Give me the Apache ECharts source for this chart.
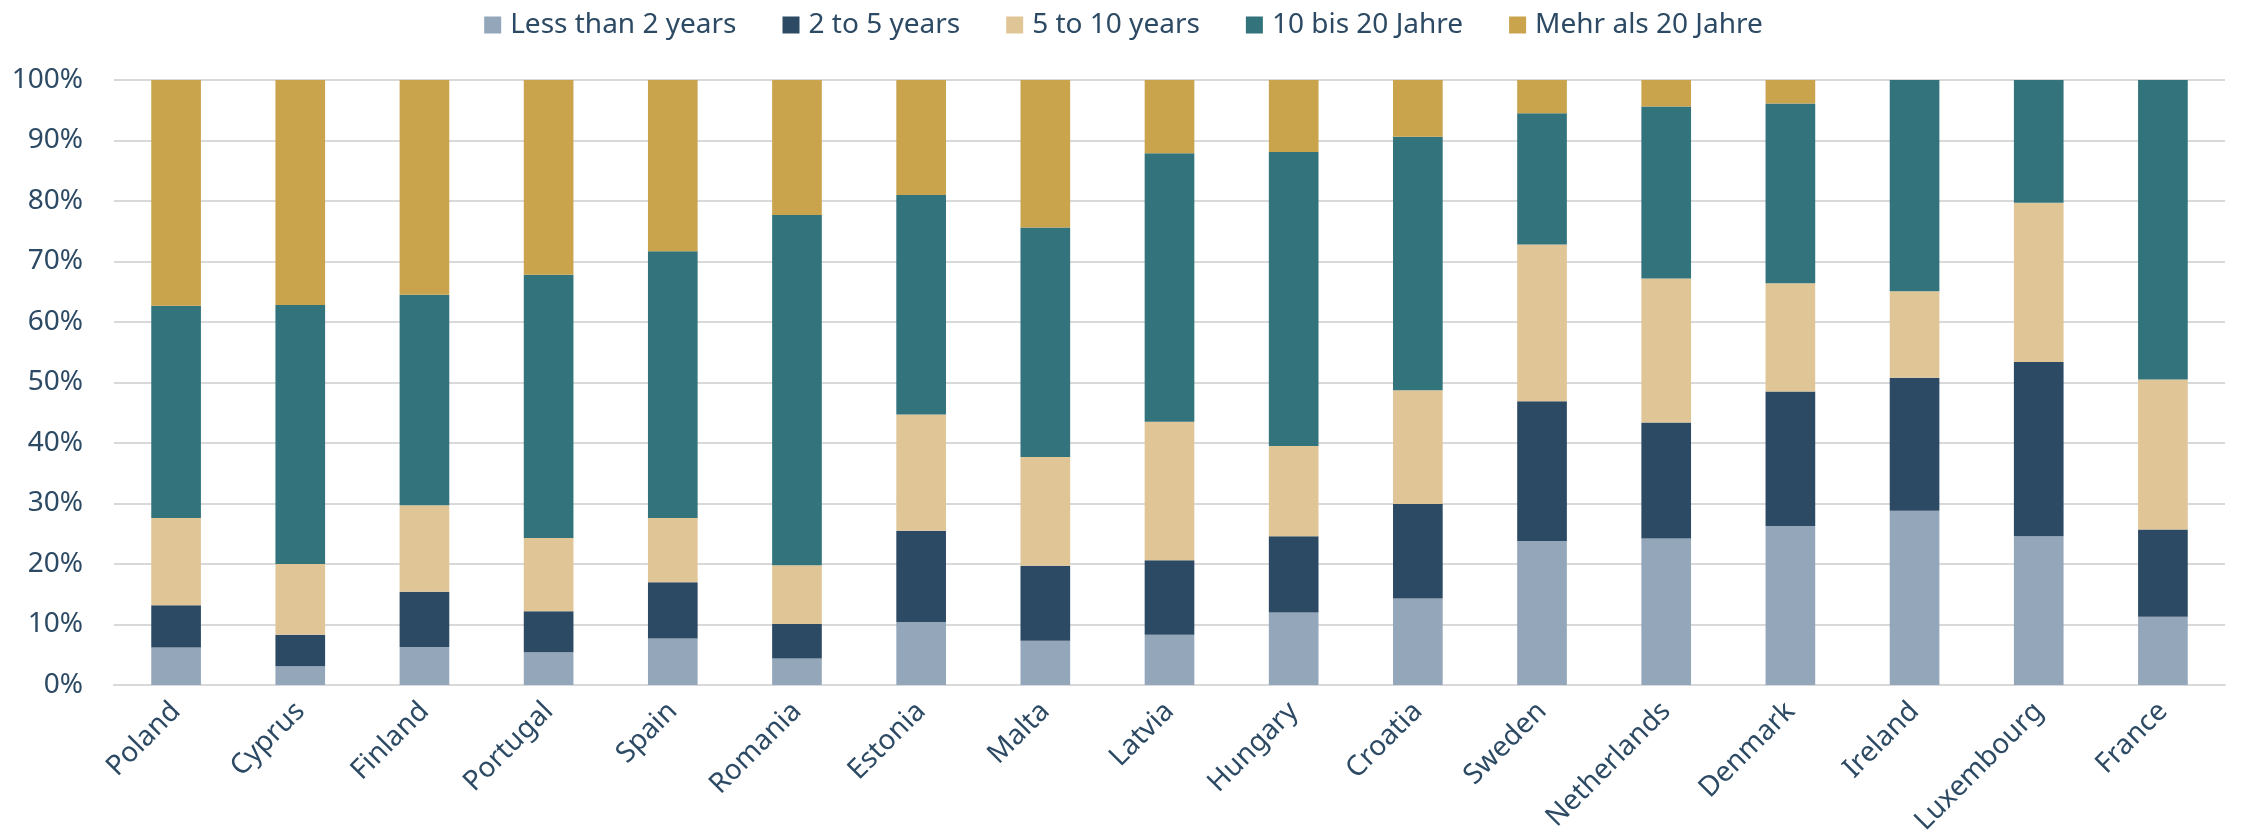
<!DOCTYPE html>
<html>
<head>
<meta charset="utf-8">
<script src="https://cdn.jsdelivr.net/npm/echarts@6/dist/echarts.min.js"></script>
<style>
  html, body { margin: 0; padding: 0; background: #ffffff; }
  #chart { width: 2247px; height: 840px; }
</style>
</head>
<body>
<div id="chart"></div>
<script>
  // countries, left to right
  var countries = ['Poland', 'Cyprus', 'Finland', 'Portugal', 'Spain', 'Romania', 'Estonia', 'Malta', 'Latvia',
    'Hungary', 'Croatia', 'Sweden', 'Netherlands', 'Denmark', 'Ireland', 'Luxembourg', 'France'];

  // share of each duration band, in %
  var lessThan2 = [6.2, 3.1, 6.3, 5.4, 7.7, 4.4, 10.4, 7.3, 8.3, 12.0, 14.3, 23.8, 24.2, 26.3, 28.8, 24.6, 11.3];
  var twoTo5 = [7.0, 5.2, 9.1, 6.8, 9.3, 5.7, 15.1, 12.4, 12.3, 12.6, 15.6, 23.1, 19.2, 22.2, 22.0, 28.8, 14.4];
  var fiveTo10 = [14.4, 11.7, 14.3, 12.1, 10.6, 9.7, 19.2, 18.0, 22.9, 14.9, 18.8, 25.9, 23.8, 17.9, 14.3, 26.3, 24.8];
  var tenTo20 = [35.1, 42.8, 34.8, 43.5, 44.1, 57.9, 36.3, 37.9, 44.4, 48.6, 41.9, 21.7, 28.4, 29.7, 34.9, 20.3, 49.5];
  var over20 = [37.3, 37.2, 35.5, 32.2, 28.3, 22.3, 19.0, 24.4, 12.1, 11.9, 9.4, 5.5, 4.4, 3.9, 0, 0, 0];

  var seriesNames = ['Less than 2 years', '2 to 5 years', '5 to 10 years', '10 bis 20 Jahre', 'Mehr als 20 Jahre'];
  var seriesData = [lessThan2, twoTo5, fiveTo10, tenTo20, over20];
  var colors = ['#94a7ba', '#2d4a64', '#e0c597', '#32737c', '#c9a44d'];

  var textColor = '#2d4a64';
  var fontName = '"Liberation Sans Narrow", "Arial Narrow", "Noto Sans", sans-serif';

  var myChart = echarts.init(document.getElementById('chart'));

  var series = [];
  for (var i = 0; i < seriesNames.length; i++) {
    series.push({
      name: seriesNames[i],
      type: 'bar',
      stack: 'total',
      barWidth: '40%',
      itemStyle: { color: colors[i] },
      data: seriesData[i]
    });
  }

  var option = {
    animation: false,
    color: colors,
    legend: {
      top: 6,
      left: 'center',
      itemWidth: 17,
      itemHeight: 17,
      itemGap: 46,
      icon: 'rect',
      textStyle: {
        color: textColor,
        fontSize: 28,
        fontFamily: fontName,
        padding: [0, 0, 0, 4]
      },
      data: seriesNames
    },
    grid: {
      left: 114,
      right: 22,
      top: 80,
      bottom: 155
    },
    xAxis: {
      type: 'category',
      data: countries,
      axisLine: { lineStyle: { color: '#d9d9d9', width: 2 } },
      axisTick: { show: false },
      axisLabel: {
        rotate: 45,
        margin: 22,
        color: textColor,
        fontSize: 28,
        fontFamily: fontName,
        interval: 0
      }
    },
    yAxis: {
      type: 'value',
      min: 0,
      max: 100,
      interval: 10,
      axisLine: { show: false },
      axisTick: { show: false },
      splitLine: { lineStyle: { color: '#d9d9d9', width: 2 } },
      axisLabel: {
        formatter: '{value}%',
        margin: 31,
        color: textColor,
        fontSize: 28,
        fontFamily: fontName
      }
    },
    series: series
  };

  myChart.setOption(option);
</script>
</body>
</html>
